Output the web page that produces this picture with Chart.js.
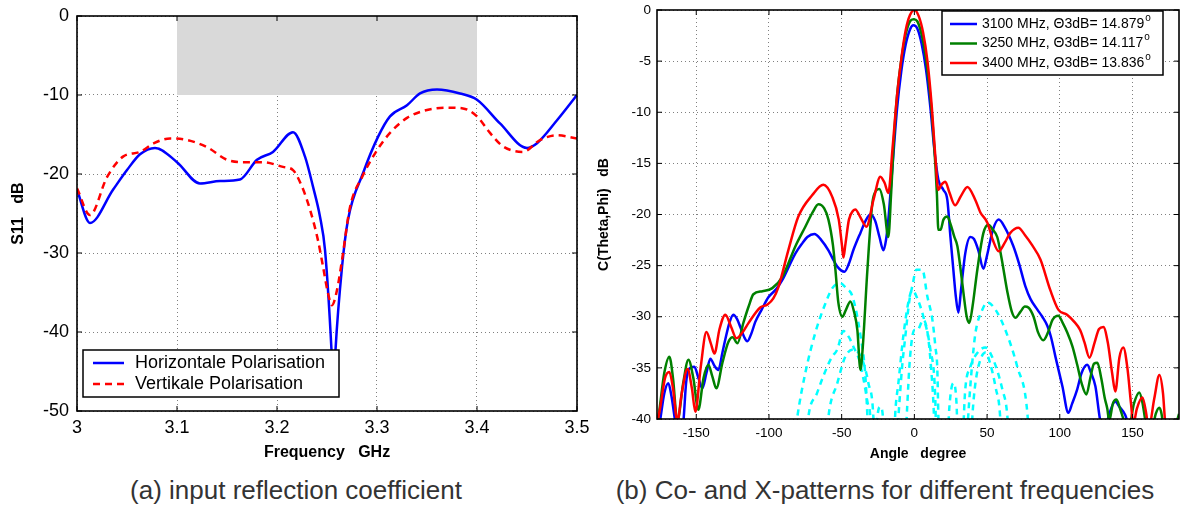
<!DOCTYPE html>
<html lang="en">
<head>
    <meta charset="UTF-8">
    <title>S11 and radiation patterns</title>
    <script src="https://cdn.jsdelivr.net/npm/chart.js@4"></script>
    <style>
        body { margin: 0; background: #fff; font-family: "Liberation Sans", Arial, sans-serif; }
        #page { position: relative; width: 1180px; height: 509px; overflow: hidden; }
        canvas { position: absolute; top: 0; }
        #s11 { left: 0; }
        #pattern { left: 590px; }
        .caption {
            position: absolute; top: 475px; line-height: 30px;
            font-size: 26px; color: #333; white-space: nowrap;
            transform: translateX(-50%);
        }
    </style>
</head>
<body>
<div id="page">
    <canvas id="s11" width="590" height="470"></canvas>
    <canvas id="pattern" width="590" height="470"></canvas>
    <div class="caption" style="left:296px">(a) input reflection coefficient</div>
    <div class="caption" style="left:885px">(b) Co- and X-patterns for different frequencies</div>
</div>

<script>
    // ---------- (a) input reflection coefficient ----------
    const freqTicks = [3, 3.1, 3.2, 3.3, 3.4, 3.5];
    const s11Ticks = [-50, -40, -30, -20, -10, 0];
    const band = [3.1, 3.4, -10, 0];   // target band: f from, f to, dB from, dB to

    const hFreq = [3.0, 3.013, 3.036, 3.05, 3.063, 3.078, 3.1, 3.123, 3.143, 3.163, 3.18, 3.196, 3.216, 3.228,
        3.236, 3.243, 3.248, 3.2545, 3.2565, 3.2585, 3.265, 3.271, 3.286, 3.301, 3.313, 3.33, 3.343, 3.36, 3.383,
        3.4, 3.423, 3.45, 3.46, 3.48, 3.5];
    const hS11 = [-22.0, -26.2, -22.0, -19.5, -17.5, -16.7, -18.5, -21.2, -20.9, -20.7, -18.2, -17.2, -14.7, -17.8,
        -21.6, -25.4, -29.6, -42.3, -48, -42.3, -31.8, -25.8, -19.9, -15.3, -12.7, -11.3, -9.8, -9.3, -9.8,
        -10.6, -13.6, -16.7, -16.1, -13.2, -10.0];

    const vFreq = [3.0, 3.013, 3.03, 3.046, 3.063, 3.077, 3.093, 3.11, 3.13, 3.15, 3.166, 3.186, 3.206, 3.216,
        3.225, 3.233, 3.241, 3.246, 3.251, 3.255, 3.26, 3.265, 3.273, 3.285, 3.3, 3.313, 3.33, 3.35, 3.37, 3.386,
        3.4, 3.413, 3.426, 3.446, 3.463, 3.48, 3.5];
    const vS11 = [-21.8, -25.2, -20.4, -17.8, -17.2, -16.1, -15.5, -15.7, -16.6, -18.2, -18.5, -18.5, -19.1, -19.5,
        -21.6, -24.5, -28.4, -31.7, -35.1, -36.6, -34.7, -30.9, -24.2, -20.4, -17.0, -14.8, -12.9, -11.9, -11.6, -11.7,
        -12.7, -14.8, -16.5, -17.2, -15.7, -15.1, -15.5];

    // ---------- (b) co- and cross-polar patterns ----------
    const angleTicks = [-150, -100, -50, 0, 50, 100, 150];
    const patternTicks = [-40, -35, -30, -25, -20, -15, -10, -5, 0];
    const freqNames = ['3100 MHz', '3250 MHz', '3400 MHz'];
    const beamwidths = ['14.879', '14.117', '13.836'];

    const ang3100 = [-177, -174.7, -172, -169.2, -167, -164.4, -162, -159, -157, -155.4, -151.3, -148.5, -145.8, -143,
        -140.3, -137.5, -134.8, -132, -130, -127, -124.5, -122, -119.7, -117, -114.9, -112, -109.4, -105, -100.4, -95,
        -90.8, -86, -81.8, -77, -73.6, -68.8, -64, -59.1, -55.5, -53, -48.1, -45, -42, -39.5, -37.1, -33.5, -30.3, -27,
        -24, -21.3, -19.5, -17.9, -15, -12, -9, -6, -3, -0.7, 2, 5, 8, 11, 14, 16.5, 20, 22.7, 24.8, 26.8, 28.5, 30.3,
        32, 35, 38.5, 41, 44, 47.5, 50, 54, 58, 62, 68.1, 72, 76.3, 80, 84.6, 88, 91.5, 94, 97, 101.8, 105.9, 108.5,
        112, 115, 118.9, 121.5, 124.5, 127.9, 131, 134, 138.2, 141, 145, 147, 150];
    const db3100 = [-42, -40, -37.5, -36.5, -37.8, -40.3, -42, -40.5, -36.5, -35.2, -34.9, -36, -37, -35.5,
        -34.1, -34.8, -35.2, -33.5, -32.2, -30.5, -29.8, -30.2, -31, -32, -32.4, -31.6, -30.5, -29.3, -28.1, -27.3,
        -26.4, -25, -23.8, -22.8, -22.2, -21.9, -22.5, -23.5, -24.5, -25.1, -25.6, -24.8, -23.5, -22.6, -21.8, -20.6, -20, -20.6,
        -22.2, -23.5, -22.5, -20.5, -15.2, -9.8, -6, -3.4, -1.9, -1.5, -1.8, -3.3, -5.8, -9.5, -14, -16.6, -17.6, -18.6, -22.2, -25.4, -28, -29.6,
        -27.5, -23.8, -22.2, -22.4, -23.5, -25.3, -24, -21.5, -20.5, -21.2, -23.1, -24.8, -27, -28.3, -29.3, -30, -30.9, -32, -33.9, -36.8, -39.4, -38.5,
        -37.1, -35.5, -34.7, -35.5, -36.8, -40.2, -41, -39.5, -38.3, -38.8, -39.6, -40.5, -42];

    const ang3250 = [-177, -176, -172, -168.5, -166, -163, -159, -155.4, -152, -148.6, -145, -141.7, -139, -136.2,
        -132, -128, -125, -121.7, -117.6, -114, -110.7, -104.5, -97.7, -90.8, -81.8, -75, -70, -66, -62, -59.1, -56,
        -54.3, -52.3, -49.5, -47, -44, -41.5, -39.2, -37.1, -35.5, -32.3, -28.9, -26.5, -24.1, -21, -17.9, -16, -14,
        -12, -9, -6, -3, -0.5, 2, 5, 8, 11, 13.5, 15.5, 16.5, 18, 20, 22.7, 25, 27.5, 29.6, 32, 33.7, 36, 37.8, 40,
        43.3, 47.5, 50.9, 54, 57, 60, 64, 67, 69.5, 73, 76, 78.4, 82, 85, 88.7, 92, 95, 99, 102, 105, 108.7, 112,
        115, 118.3, 121, 123.5, 125.9, 128.5, 131, 132.7, 134, 136.5, 139, 141.5, 144.4, 148, 151, 154.7, 157, 158.9,
        162, 166, 168.5, 170, 171, 175, 179, 182];
    const db3250 = [-40.5, -39.8, -35.5, -33.9, -36, -40.2, -36.5, -34.2, -36, -39.1, -36, -34.7, -35.8, -37,
        -34.5, -32.5, -32, -32.6, -30.6, -29, -27.8, -27.5, -27.2, -26.1, -23.1, -21.2, -19.8, -19.0, -19.4, -20.5, -23,
        -25.4, -28.6, -30.0, -29.3, -28.5, -29.5, -31.3, -35.2, -33, -25.4, -18.9, -17.7, -17.5, -19, -22.2, -18, -12.5,
        -8.5, -4.9, -2.4, -1.1, -0.9, -1.1, -2.4, -4.8, -8.5, -13, -18, -21.5, -21.5, -20.5, -20.2, -21, -22.2, -23.1, -25.6, -27.6, -30, -30.6, -29,
        -25.4, -21.8, -21, -21.5, -22.2, -24.3, -27.6, -29.5, -30.1, -29.5, -29, -29.1, -30, -31.5, -32.3, -31.5, -30.3, -29.9, -30.6, -31.5, -32.9, -34.7,
        -36.5, -37.6, -36, -34.6, -34.5, -36, -38, -39, -40.2, -38.5, -38.1, -39, -40.2, -40.5, -38.5, -37.4, -38.5, -40.2,
        -42, -39.5, -38.9, -39.5, -40.5, -43, -41, -39.5];

    const ang3400 = [-177, -174.7, -171.5, -168.5, -166, -163, -160, -156, -153, -150.6, -147, -143, -140, -137.5,
        -134, -130, -126, -122.4, -118, -114, -106, -101, -97, -93.5, -86.7, -79.8, -70.2, -62.6, -56.4, -52, -49.8,
        -48.8, -47.5, -45, -42, -40.6, -37, -33, -28, -23.4, -20.5, -17.9, -15, -12, -9, -6, -3, 0, 3, 6, 9, 12, 14.5,
        16.5, 18.5, 21.3, 24, 28, 32, 36.5, 42, 45.4, 50.2, 54, 58, 62, 66, 71.5, 76, 81, 86.7, 93.5, 99, 105, 110,
        114, 117, 120.4, 124, 127, 130, 133, 136, 138.2, 141, 143.7, 146.5, 149, 150.6, 153, 156.8, 159.5, 161, 165,
        168.5, 171, 172.6, 176];
    const db3400 = [-40.5, -38.8, -36, -35.4, -37, -40.2, -37.5, -35.1, -37, -39.3, -35, -31.5, -32.6, -33.6,
        -31.2, -29.8, -31, -32.1, -31.5, -30.6, -29.1, -28.8, -28.2, -27.1, -23.5, -20.2, -18.1, -17.1, -18.3, -20.5, -23,
        -24.2, -23, -20.5, -19.6, -19.5, -20.3, -21.2, -18.5, -16.3, -16.9, -17.9, -13.5, -8.5, -4.8, -2.0, -0.5, 0, -0.6, -2.2, -5.0, -9.5, -14.5,
        -17.6, -17.1, -16.8, -17.8, -19.1, -18.2, -17.3, -18.6, -19.8, -20.8, -22.5, -23.6, -22.8, -21.8, -21.3, -22, -23, -24.4, -27.4, -29.3, -29.8, -30.5,
        -31.3, -32.5, -34, -32.5, -31.2, -31, -32.5, -35.5, -37.3, -34, -33, -35, -38.5, -40.5, -39, -37.9, -39.5, -41, -38,
        -35.7, -37.5, -40.5, -42];

    // cross-polar lobes (dashed cyan)
    const angX1 = [-85, -80.5, -75, -68, -62, -56.4, -51, -47, -42.6, -37, -33.7, -32.3, -31, -14, -11, -8.5, -6.2,
        -3.5, -1.4, 1.4, 5.5, 8.9, 12.4, 14.5, 15.8, 16.5, 17.5, 35, 37, 39.5, 42, 46.8, 50.2, 55.7, 62.6, 70.8, 77.7, 80];
    const dbX1 = [-45, -39.8, -35.5, -31.5, -29, -27.2, -26.7, -27.2, -28, -31.9, -35.8, -39.8, -45, -45, -39.8, -35, -31.9,
        -28.5, -27, -25.4, -25.4, -28, -30.3, -33, -35.2, -39.8, -45, -45, -39.8, -35, -31.6, -29.3, -28.6, -29.3, -31.3, -34.9, -39.4, -45];
    const angX2 = [-76, -72.9, -67, -62.6, -57, -53, -48.8, -45, -42, -38, -35, -32, -30.3, -29, -27, -25.5, -23.4,
        -21.5, -20, -15, -13, -11, -7.6, -4, -1.4, 2, 6.2, 11, 14.4, 15.5, 32, 35, 38.5, 43, 48.8, 54.3, 60.5, 64, 66];
    const dbX2 = [-45, -39.8, -37.5, -35.8, -34, -33.2, -31.4, -32, -32.9, -34.2, -36.1, -38.5, -39.8, -45, -45, -40, -38.8,
        -40, -45, -45, -39.1, -36.5, -31.9, -28.5, -27.4, -28.2, -30, -33.2, -38.1, -45, -45, -37.1, -34.9, -33.6, -33, -34.2, -37.1, -39.8, -45];
    const angX3 = [-62, -59.1, -53, -47.5, -42, -35.8, -31.6, -28.2, -27, -7, -5, -3, 0, 2, 6.2, 9, 11.5, 13.5, 14.5,
        22, 24, 26.8, 29, 30.5, 38, 40, 42, 45.4, 49, 52, 56, 59, 60.5];
    const dbX3 = [-45, -39.8, -36.5, -33.9, -33.2, -34.2, -36.5, -39.8, -45, -45, -39, -34, -31.3, -31.3, -30.3, -31.5, -35, -39.8, -45,
        -45, -39, -36.5, -38.5, -45, -45, -39.5, -36.5, -34.2, -33.5, -34.5, -37, -39.8, -45];

    // ---------- helpers ----------
    const FONT = '"Liberation Sans", Arial, Helvetica, sans-serif';
    Chart.defaults.font.family = FONT;
    Chart.defaults.color = '#000';

    const pts = (xs, ys) => xs.map((x, i) => ({x: x, y: ys[i]}));
    const useTicks = arr => (axis => { axis.ticks = arr.map(v => ({value: v})); });
    // fixed axis size; edge labels may overhang the plot without shrinking it
    const fixHeight = h => (axis => { axis.height = h; axis.paddingLeft = 0; axis.paddingRight = 0; });
    const fixWidth = w => (axis => { axis.width = w; axis.paddingTop = 0; axis.paddingBottom = 0; });

    // black box round the plot, with short inward ticks
    const frame = {
        id: 'frame',
        afterDatasetsDraw(chart) {
            const {ctx, chartArea: a, scales} = chart;
            ctx.save();
            ctx.strokeStyle = '#000';
            ctx.lineWidth = 1;
            ctx.beginPath();
            scales.x.ticks.forEach(t => {
                const px = scales.x.getPixelForValue(t.value);
                ctx.moveTo(px, a.bottom); ctx.lineTo(px, a.bottom - 5);
                ctx.moveTo(px, a.top); ctx.lineTo(px, a.top + 5);
            });
            scales.y.ticks.forEach(t => {
                const py = scales.y.getPixelForValue(t.value);
                ctx.moveTo(a.left, py); ctx.lineTo(a.left + 5, py);
                ctx.moveTo(a.right, py); ctx.lineTo(a.right - 5, py);
            });
            ctx.stroke();
            ctx.lineWidth = 1.6;
            ctx.strokeRect(a.left, a.top, a.right - a.left, a.bottom - a.top);
            ctx.restore();
        }
    };

    // gray target band
    const bandBox = {
        id: 'bandBox',
        beforeDatasetsDraw(chart) {
            const {ctx, scales: {x, y}} = chart;
            const x1 = x.getPixelForValue(band[0]), x2 = x.getPixelForValue(band[1]);
            const y1 = y.getPixelForValue(band[3]), y2 = y.getPixelForValue(band[2]);
            ctx.save();
            ctx.fillStyle = '#d9d9d9';
            ctx.fillRect(x1, y1, x2 - x1, y2 - y1);
            ctx.restore();
        }
    };

    // boxed legend drawn over the lines
    function boxLegend(cfg) {
        return {
            id: 'boxLegend',
            afterDatasetsDraw(chart) {
                const {ctx, chartArea: a} = chart;
                const x0 = cfg.fromRight != null ? a.right - cfg.fromRight - cfg.w : a.left + cfg.fromLeft;
                const y0 = cfg.fromBottom != null ? a.bottom - cfg.fromBottom - cfg.h : a.top + cfg.fromTop;
                ctx.save();
                ctx.fillStyle = '#fff';
                ctx.fillRect(x0, y0, cfg.w, cfg.h);
                ctx.strokeStyle = '#000';
                ctx.lineWidth = 1.5;
                ctx.strokeRect(x0, y0, cfg.w, cfg.h);
                chart.data.datasets.filter(d => d.label).forEach((d, i) => {
                    const y = y0 + cfg.first + i * cfg.step;
                    ctx.beginPath();
                    ctx.setLineDash(d.borderDash || []);
                    ctx.strokeStyle = d.borderColor;
                    ctx.lineWidth = d.borderWidth;
                    ctx.moveTo(x0 + cfg.lx, y);
                    ctx.lineTo(x0 + cfg.lx + cfg.ll, y);
                    ctx.stroke();
                    ctx.setLineDash([]);
                    ctx.fillStyle = '#000';
                    ctx.font = cfg.font;
                    ctx.textBaseline = 'middle';
                    ctx.fillText(d.label, x0 + cfg.tx, y);
                    if (d.sup) {
                        const w = ctx.measureText(d.label).width;
                        ctx.font = cfg.supFont;
                        ctx.fillText(d.sup, x0 + cfg.tx + w + 1, y - 6);
                    }
                });
                ctx.restore();
            }
        };
    }

    const gridDots = {color: '#808080', lineWidth: 1, drawTicks: false};
    const noBorder = {display: false, dash: [1, 3]};

    // ---------- chart (a) ----------
    new Chart(document.getElementById('s11'), {
        type: 'line',
        data: {
            datasets: [
                {label: 'Horizontale Polarisation', data: pts(hFreq, hS11), borderColor: '#0000ff',
                    borderWidth: 2.5, order: 1},
                {label: 'Vertikale Polarisation', data: pts(vFreq, vS11), borderColor: '#ff0000',
                    borderWidth: 2.5, borderDash: [7, 5], order: 0}
            ]
        },
        options: {
            responsive: false,
            animation: false,
            events: [],
            layout: {autoPadding: false, padding: {top: 16, right: 13, left: 0, bottom: 0}},
            elements: {point: {radius: 0}, line: {cubicInterpolationMode: 'monotone', fill: false}},
            plugins: {legend: {display: false}, tooltip: {enabled: false}},
            scales: {
                x: {
                    type: 'linear', min: 3, max: 3.5,
                    afterBuildTicks: useTicks(freqTicks),
                    afterFit: fixHeight(59),
                    grid: gridDots, border: noBorder,
                    ticks: {font: {size: 18}, padding: 6, maxRotation: 0, callback: v => String(v)},
                    title: {display: true, text: 'Frequency   GHz', font: {size: 16, weight: 'bold'},
                        padding: {top: 0, bottom: 8}}
                },
                y: {
                    type: 'linear', min: -50, max: 0,
                    afterBuildTicks: useTicks(s11Ticks),
                    afterFit: fixWidth(77),
                    grid: gridDots, border: noBorder,
                    ticks: {font: {size: 18}, padding: 8, callback: v => String(v)},
                    title: {display: true, text: 'S11   dB', font: {size: 16, weight: 'bold'},
                        padding: {top: 9, bottom: 0}}
                }
            }
        },
        plugins: [bandBox, frame, boxLegend({
            fromLeft: 6, fromBottom: 14, w: 256, h: 47, first: 13, step: 21,
            lx: 10, ll: 31, tx: 52, font: '18px ' + FONT
        })]
    });

    // ---------- chart (b) ----------
    const cyanStyle = {borderColor: '#00ffff', borderWidth: 2.5, borderDash: [6, 5], order: 3};

    new Chart(document.getElementById('pattern'), {
        type: 'line',
        data: {
            datasets: [
                {label: freqNames[0] + ', \u03983dB= ' + beamwidths[0], sup: 'o', data: pts(ang3100, db3100),
                    borderColor: '#0000ff', borderWidth: 2.5, order: 2},
                {label: freqNames[1] + ', \u03983dB= ' + beamwidths[1], sup: 'o', data: pts(ang3250, db3250),
                    borderColor: '#008000', borderWidth: 2.5, order: 1},
                {label: freqNames[2] + ', \u03983dB= ' + beamwidths[2], sup: 'o', data: pts(ang3400, db3400),
                    borderColor: '#ff0000', borderWidth: 2.5, order: 0},
                Object.assign({data: pts(angX1, dbX1)}, cyanStyle),
                Object.assign({data: pts(angX2, dbX2)}, cyanStyle),
                Object.assign({data: pts(angX3, dbX3)}, cyanStyle)
            ]
        },
        options: {
            responsive: false,
            animation: false,
            events: [],
            layout: {autoPadding: false, padding: {top: 10, right: 1, left: 0, bottom: 0}},
            elements: {point: {radius: 0}, line: {cubicInterpolationMode: 'monotone', fill: false}},
            plugins: {legend: {display: false}, tooltip: {enabled: false}},
            scales: {
                x: {
                    type: 'linear', min: -177, max: 182,
                    afterBuildTicks: useTicks(angleTicks),
                    afterFit: fixHeight(51),
                    grid: gridDots, border: noBorder,
                    ticks: {font: {size: 13.5}, padding: 6, maxRotation: 0, callback: v => String(v)},
                    title: {display: true, text: 'Angle   degree', font: {size: 14, weight: 'bold'},
                        padding: {top: 0, bottom: 7}}
                },
                y: {
                    type: 'linear', min: -40, max: 0,
                    afterBuildTicks: useTicks(patternTicks),
                    afterFit: fixWidth(67),
                    grid: gridDots, border: noBorder,
                    ticks: {font: {size: 13.5}, padding: 6, callback: v => String(v)},
                    title: {display: true, text: 'C(Theta,Phi)   dB', font: {size: 14, weight: 'bold'},
                        padding: {top: 6, bottom: 0}}
                }
            }
        },
        plugins: [frame, boxLegend({
            fromRight: 16, fromTop: 1, w: 221, h: 64, first: 13, step: 19.5,
            lx: 8, ll: 27, tx: 40, font: '14px ' + FONT, supFont: '10px ' + FONT
        })]
    });
</script>
</body>
</html>
